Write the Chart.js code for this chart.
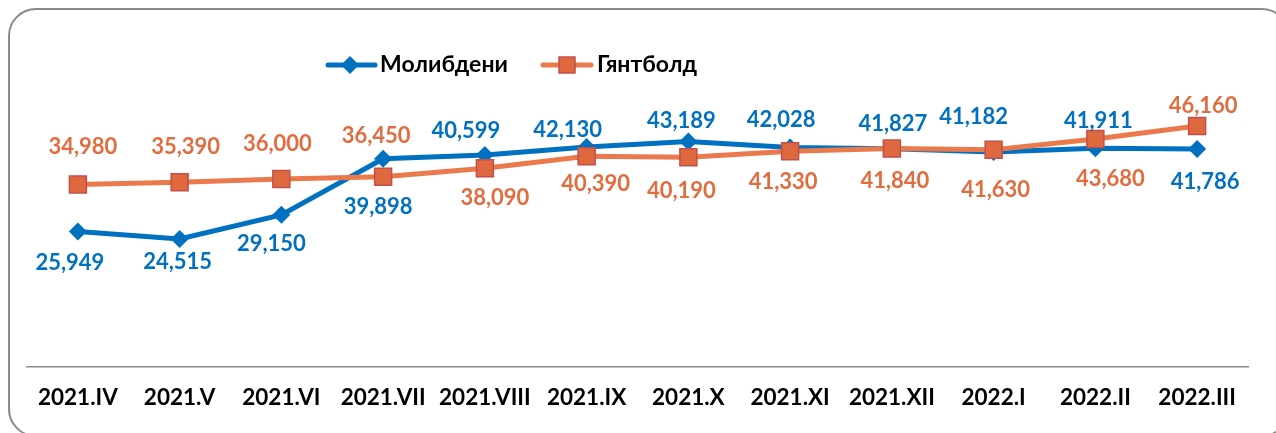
<!DOCTYPE html>
<html>
<head>
<meta charset="utf-8">
<script src="https://cdn.jsdelivr.net/npm/chart.js@4.4.1/dist/chart.umd.min.js"></script>
<style>
	html, body { margin: 0; padding: 0; background: #fff; overflow: hidden; }
	#wrap { position: relative; width: 1276px; height: 433px; }
	#frame {
		position: absolute; left: 8px; top: 8px; width: 1282px; height: 429px;
		box-sizing: border-box; border: 2px solid #8a8a8a; border-radius: 28px;
		pointer-events: none;
	}
</style>
</head>
<body>
<div id="wrap">
	<canvas id="lineChart" width="1276" height="433"></canvas>
	<div id="frame"></div>
</div>
<script>
// categories and series
const periods = ["2021.IV", "2021.V", "2021.VI", "2021.VII", "2021.VIII", "2021.IX", "2021.X", "2021.XI", "2021.XII", "2022.I", "2022.II", "2022.III"];
const molybdenum = [25949, 24515, 29150, 39898, 40599, 42130, 43189, 42028, 41827, 41182, 41911, 41786];
const gyantbold = [34980, 35390, 36000, 36450, 38090, 40390, 40190, 41330, 41840, 41630, 43680, 46160];
const seriesNames = ["Молибдени", "Гянтболд"];

// label placement (pixel offsets from the point)
const blueLabelDx = [-8, -2, -10, -5, -19, -19, -7, -9, 1, -20, 3, 8];
const blueLabelDy = [31, 23, 29, 48, -24, -17, -21, -28, -25, -35, -27, 33];
const orangeLabelDx = [5, 6, -4, -7, 10, 9, -7, -7, 3, 2, 15, 6];
const orangeLabelDy = [-37, -35, -35, -41, 30, 28, 34, 31, 32, 40, 40, -20];

const BLUE = "#0070C0";
const ORANGE_LINE = "#EA7A4C";
const ORANGE_MARK = "#E0683F";
const ORANGE_EDGE = "#C0504D";
const ORANGE_TEXT = "#E36C3E";
const FONT = "Lato, 'Open Sans', sans-serif";

document.addEventListener('DOMContentLoaded', function() {
	try
	{
		const valueLabels = {
			id: 'valueLabels',
			afterDatasetsDraw(chart) {
				const ctx = chart.ctx;
				ctx.save();
				ctx.font = "bold 22px " + FONT;
				ctx.textAlign = "center";
				ctx.textBaseline = "middle";
				chart.data.datasets.forEach((ds, di) => {
					const meta = chart.getDatasetMeta(di);
					meta.data.forEach((pt, i) => {
						ctx.fillStyle = ds.labelColor;
						ctx.fillText(ds.data[i].toLocaleString('en-US'), pt.x + ds.labelDx[i], pt.y + ds.labelDy[i]);
					});
				});
				ctx.restore();
			}
		};

		const lineLegend = {
			id: 'lineLegend',
			afterDraw(chart) {
				const ctx = chart.ctx;
				const y = 65;
				ctx.save();
				ctx.font = "bold 23px " + FONT;
				ctx.textBaseline = "middle";
				ctx.lineCap = "round";

				// blue item
				ctx.strokeStyle = BLUE; ctx.lineWidth = 5;
				ctx.beginPath(); ctx.moveTo(328, y); ctx.lineTo(375, y); ctx.stroke();
				ctx.fillStyle = BLUE;
				ctx.beginPath();
				ctx.moveTo(350, y - 9); ctx.lineTo(359, y); ctx.lineTo(350, y + 9); ctx.lineTo(341, y);
				ctx.closePath(); ctx.fill();
				ctx.fillStyle = "#000";
				ctx.fillText(seriesNames[0], 380, y);

				// orange item
				ctx.strokeStyle = ORANGE_LINE; ctx.lineWidth = 5;
				ctx.beginPath(); ctx.moveTo(543, y); ctx.lineTo(591, y); ctx.stroke();
				ctx.fillStyle = ORANGE_MARK; ctx.strokeStyle = ORANGE_EDGE; ctx.lineWidth = 1.5;
				ctx.fillRect(559, y - 8, 16, 16);
				ctx.strokeRect(559, y - 8, 16, 16);
				ctx.fillStyle = "#000";
				ctx.fillText(seriesNames[1], 597, y);
				ctx.restore();
			}
		};

		const ctx = document.getElementById("lineChart").getContext("2d");

		new Chart(ctx, {
			type: "line",
			data: {
				labels: periods,
				datasets: [
					{
						label: seriesNames[0],
						data: molybdenum,
						borderColor: BLUE,
						backgroundColor: BLUE,
						borderWidth: 5,
						pointStyle: "rectRot",
						pointRadius: 9,
						pointBorderWidth: 0,
						pointBackgroundColor: BLUE,
						tension: 0,
						order: 1,
						clip: false,
						labelColor: BLUE,
						labelDx: blueLabelDx,
						labelDy: blueLabelDy
					},
					{
						label: seriesNames[1],
						data: gyantbold,
						borderColor: ORANGE_LINE,
						backgroundColor: ORANGE_MARK,
						borderWidth: 5,
						pointStyle: "rect",
						pointRadius: 12,
						pointBorderWidth: 1.5,
						pointBorderColor: ORANGE_EDGE,
						pointBackgroundColor: ORANGE_MARK,
						tension: 0,
						order: 0,
						clip: false,
						labelColor: ORANGE_TEXT,
						labelDx: orangeLabelDx,
						labelDy: orangeLabelDy
					}
				]
			},
			options: {
				responsive: false,
				animation: false,
				layout: { padding: { left: 27, right: 28, top: 106, bottom: 5 } },
				plugins: {
					legend: { display: false },
					tooltip: { enabled: false }
				},
				scales: {
					x: {
						offset: true,
						grid: { display: false, drawTicks: false },
						border: { display: true, color: "#8c8c8c", width: 1.5 },
						ticks: {
							color: "#000",
							padding: 17,
							font: { family: FONT, size: 22.5, weight: "bold" },
							maxRotation: 0,
							autoSkip: false
						}
					},
					y: {
						display: false,
						min: 0,
						max: 50000
					}
				}
			},
			plugins: [valueLabels, lineLegend]
		});
	}
	catch (error) {
		console.error("Error loading chart:", error);
	}
});
</script>
</body>
</html>
